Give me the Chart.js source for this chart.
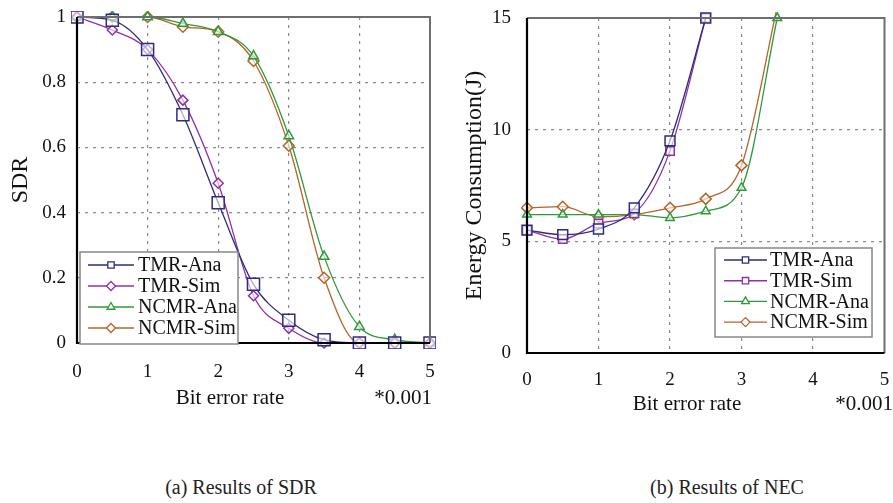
<!DOCTYPE html>
<html lang="en">
<head>
    <meta charset="UTF-8">
    <title>Results of SDR and NEC</title>
    <script src="https://cdn.jsdelivr.net/npm/chart.js"></script>
    <style>
        body {
            margin: 0;
            background: #fff;
            font-family: "Liberation Serif", serif;
        }

        #page {
            position: relative;
            width: 893px;
            height: 503px;
            overflow: hidden;
        }

        .box {
            position: absolute;
            top: 0;
            height: 430px;
        }

        #leftBox { left: 0; width: 446px; }
        #rightBox { left: 446px; width: 447px; }

        .caption {
            position: absolute;
            top: 476px;
            font-size: 20px;
            color: #222;
            transform: translateX(-50%);
            white-space: nowrap;
        }
    </style>
</head>
<body>
<div id="page">
    <div class="box" id="leftBox"><canvas id="sdrChart" width="446" height="430"></canvas></div>
    <div class="box" id="rightBox"><canvas id="necChart" width="447" height="430"></canvas></div>
    <div class="caption" style="left:241px">(a) Results of SDR</div>
    <div class="caption" style="left:727px">(b) Results of NEC</div>
</div>

<script>
    // x values (bit error rate, *0.001)
    const berX = [0, 0.5, 1, 1.5, 2, 2.5, 3, 3.5, 4, 4.5, 5];
    const xTickLabels = ['0', '1', '2', '3', '4', '5'];
    const seriesNames = ['TMR-Ana', 'TMR-Sim', 'NCMR-Ana', 'NCMR-Sim'];

    // (a) SDR
    const sdrTmrAna  = [1, 0.99, 0.9, 0.7, 0.43, 0.18, 0.07, 0.01, 0, 0, 0];
    const sdrTmrSim  = [1, 0.96, 0.9, 0.745, 0.49, 0.145, 0.045, 0, 0, 0, 0];
    const sdrNcmrAna = [1, 1, 1, 0.98, 0.955, 0.88, 0.635, 0.265, 0.05, 0.01, 0];
    const sdrNcmrSim = [1, 1, 1, 0.97, 0.955, 0.865, 0.605, 0.2, 0, 0, 0];
    const sdrTickLabels = ['0', '0.2', '0.4', '0.6', '0.8', '1'];

    // (b) NEC
    const necX       = [0, 0.5, 1, 1.5, 2, 2.5, 3, 3.5];
    const necTmrAna  = [5.5, 5.3, 5.55, 6.5, 9.5, 15];
    const necTmrSim  = [5.5, 5.1, 5.8, 6.25, 9.05, 15];
    const necNcmrAna = [6.2, 6.2, 6.2, 6.2, 6.05, 6.35, 7.4, 15];
    const necNcmrSim = [6.5, 6.55, 6.1, 6.2, 6.5, 6.9, 8.4, 15.5];
    const necTickLabels = ['0', '5', '10', '15'];

    const colors = ['#2e2c80', '#9030a8', '#2f9a3a', '#b5642a'];
    const serif = '"Liberation Serif", "Times New Roman", serif';

    function pts(xs, ys) {
        return ys.map((y, i) => ({ x: xs[i], y: y }));
    }

    function makeSet(i, xs, ys, style, radius) {
        return {
            label: seriesNames[i],
            data: pts(xs, ys),
            borderColor: colors[i],
            backgroundColor: colors[i],
            borderWidth: 1.3,
            pointStyle: style,
            pointRadius: radius,
            pointBorderWidth: 1.5,
            pointBackgroundColor: 'rgba(255,255,255,0.6)',
            pointBorderColor: colors[i],
            cubicInterpolationMode: 'monotone',
            clip: 6
        };
    }

    // frame, x titles and in-plot legend box
    const framePlugin = {
        id: 'frame',
        afterDraw(chart, args, opts) {
            const ctx = chart.ctx;
            const a = chart.chartArea;
            ctx.save();
            // top/right gray border
            ctx.strokeStyle = '#6e6e6e';
            ctx.lineWidth = 2;
            ctx.beginPath();
            ctx.moveTo(a.left, a.top);
            ctx.lineTo(a.right, a.top);
            ctx.lineTo(a.right, a.bottom);
            ctx.stroke();
            // left/bottom black axes
            ctx.strokeStyle = '#000';
            ctx.lineWidth = 2.2;
            ctx.beginPath();
            ctx.moveTo(a.left, a.top);
            ctx.lineTo(a.left, a.bottom);
            ctx.lineTo(a.right, a.bottom);
            ctx.stroke();

            // x axis title + unit
            ctx.fillStyle = '#111';
            ctx.font = '21px ' + serif;
            ctx.textBaseline = 'middle';
            ctx.textAlign = 'center';
            ctx.fillText('Bit error rate', opts.titleX, opts.titleY);
            ctx.textAlign = 'right';
            ctx.fillText('*0.001', opts.unitX, opts.titleY);

            // legend box
            const lg = opts.legend;
            ctx.fillStyle = '#fff';
            ctx.fillRect(lg.x, lg.y, lg.w, lg.h);
            ctx.strokeStyle = '#888';
            ctx.lineWidth = 1.5;
            ctx.strokeRect(lg.x, lg.y, lg.w, lg.h);
            ctx.font = '20px ' + serif;
            ctx.textAlign = 'left';
            chart.data.datasets.forEach((ds, i) => {
                const y = lg.y + lg.firstRow + i * lg.rowH;
                ctx.strokeStyle = ds.borderColor;
                ctx.lineWidth = 1.4;
                ctx.beginPath();
                ctx.moveTo(lg.lineX0, y);
                ctx.lineTo(lg.lineX1, y);
                ctx.stroke();
                ctx.fillStyle = '#fff';
                ctx.lineWidth = 1.3;
                Chart.helpers.drawPoint(ctx, {
                    pointStyle: ds.pointStyle,
                    radius: lg.markR,
                    rotation: 0,
                    borderWidth: 1.3
                }, (lg.lineX0 + lg.lineX1) / 2, y);
                ctx.fillStyle = '#111';
                ctx.fillText(ds.label, lg.textX, y + 1);
            });
            ctx.restore();
        }
    };

    function axes(opt) {
        return {
            x: {
                type: 'linear',
                min: 0,
                max: 5,
                afterFit(s) {
                    s.height = opt.xHeight;
                    s.paddingLeft = 0;
                    s.paddingRight = 0;
                },
                afterBuildTicks(s) {
                    s.ticks = xTickLabels.map(v => ({ value: Number(v) }));
                },
                ticks: {
                    padding: opt.xPad,
                    color: '#111',
                    font: { family: serif, size: 19 },
                    callback: (v, i) => xTickLabels[i]
                },
                grid: {
                    drawTicks: false,
                    color: ctx => (ctx.index === 0 || ctx.index === xTickLabels.length - 1) ? 'rgba(0,0,0,0)' : '#8a8a8a',
                    lineWidth: 1.2
                },
                border: { display: false, dash: [3, 5] }
            },
            y: {
                type: 'linear',
                min: 0,
                max: opt.yMax,
                afterFit(s) {
                    s.width = opt.yWidth;
                    s.paddingTop = 0;
                    s.paddingBottom = 0;
                },
                afterBuildTicks(s) {
                    s.ticks = opt.yLabels.map(v => ({ value: Number(v) }));
                },
                ticks: {
                    padding: opt.yPad,
                    color: '#111',
                    font: { family: serif, size: 19 },
                    callback: (v, i) => opt.yLabels[i]
                },
                grid: {
                    drawTicks: false,
                    color: ctx => (ctx.index === 0 || ctx.index === opt.yLabels.length - 1) ? 'rgba(0,0,0,0)' : '#8a8a8a',
                    lineWidth: 1.2
                },
                border: { display: false, dash: [3, 5] },
                title: {
                    display: true,
                    text: opt.yTitle,
                    color: '#111',
                    font: { family: serif, size: opt.yTitleSize },
                    padding: { top: opt.yTitlePad, bottom: 0 }
                }
            }
        };
    }

    new Chart(document.getElementById('sdrChart').getContext('2d'), {
        type: 'line',
        data: {
            datasets: [
                makeSet(0, berX, sdrTmrAna, 'rect', 8.5),
                makeSet(1, berX, sdrTmrSim, 'rectRot', 5),
                makeSet(2, berX, sdrNcmrAna, 'triangle', 5.5),
                makeSet(3, berX, sdrNcmrSim, 'rectRot', 5.5)
            ]
        },
        options: {
            responsive: false,
            animation: false,
            layout: { padding: { top: 17, right: 16, left: 0, bottom: 0 } },
            scales: axes({ xHeight: 87, xPad: 18, yMax: 1, yWidth: 77, yPad: 11,
                           yLabels: sdrTickLabels, yTitle: 'SDR', yTitleSize: 24, yTitlePad: 6 }),
            plugins: {
                legend: { display: false },
                tooltip: { enabled: false },
                frame: {
                    titleX: 230, titleY: 398, unitX: 432,
                    legend: { x: 80, y: 252, w: 158, h: 92, firstRow: 13, rowH: 21,
                              lineX0: 88, lineX1: 134, textX: 138, markR: 4.5 }
                }
            }
        },
        plugins: [framePlugin]
    });

    new Chart(document.getElementById('necChart').getContext('2d'), {
        type: 'line',
        data: {
            datasets: [
                makeSet(0, necX, necTmrAna, 'rect', 7),
                makeSet(1, necX, necTmrSim, 'rect', 6),
                makeSet(2, necX, necNcmrAna, 'triangle', 5),
                makeSet(3, necX, necNcmrSim, 'rectRot', 5.5)
            ]
        },
        options: {
            responsive: false,
            animation: false,
            layout: { padding: { top: 18, right: 5, left: 0, bottom: 0 } },
            scales: axes({ xHeight: 77, xPad: 16, yMax: 15, yWidth: 81, yPad: 16,
                           yLabels: necTickLabels, yTitle: 'Energy Consumption(J)', yTitleSize: 24, yTitlePad: 14 }),
            plugins: {
                legend: { display: false },
                tooltip: { enabled: false },
                frame: {
                    titleX: 241, titleY: 404, unitX: 447,
                    legend: { x: 269, y: 248, w: 157, h: 89, firstRow: 12, rowH: 20.7,
                              lineX0: 278, lineX1: 321, textX: 324, markR: 4.5 }
                }
            }
        },
        plugins: [framePlugin]
    });
</script>
</body>
</html>
